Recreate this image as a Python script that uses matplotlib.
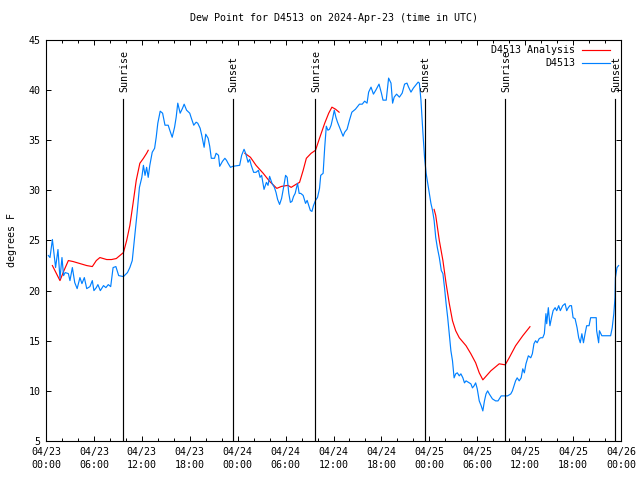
import numpy as np
import matplotlib
matplotlib.use("Agg")
import matplotlib.pyplot as plt

# hours since 2024-04-23 00:00 UTC
obs_hours = [0.3, 0.5, 0.8, 1.0, 1.2, 1.5, 1.75, 2.0, 2.2, 2.4, 2.8, 3.0, 3.3, 3.6, 3.9,
             4.25, 4.5, 4.8, 5.1, 5.5, 5.8, 6.0, 6.3, 6.5, 6.8, 7.2, 7.5, 7.8, 8.1, 8.4,
             8.75, 9.1, 9.7, 10.2, 10.5, 10.8, 11.1, 11.4, 11.7, 12.0, 12.2, 12.4, 12.6,
             12.8, 13.0, 13.3, 13.6, 13.8, 14.0, 14.3, 14.6, 14.9, 15.3, 15.5, 15.8, 16.1,
             16.3, 16.5, 16.8, 17.1, 17.3, 17.6, 18.0, 18.2, 18.5, 18.8, 19.0, 19.3, 19.5,
             19.8, 20.0, 20.3, 20.5, 20.7, 21.1, 21.3, 21.6, 21.75, 22.1, 22.4, 22.6, 22.8,
             23.1, 23.4, 24.2, 24.25, 24.5, 24.8, 25.0, 25.3, 25.5, 25.7, 26.0, 26.3, 26.6,
             26.8, 27.0, 27.3, 27.6, 27.8, 28.0, 28.3, 28.6, 28.8, 29.0, 29.25, 29.5, 29.75,
             30.0, 30.2, 30.4, 30.6, 30.8, 31.0, 31.2, 31.5, 31.7, 31.9, 32.2, 32.5, 32.7,
             32.9, 33.1, 33.3, 33.5, 33.75, 34.0, 34.25, 34.4, 34.7, 34.9, 35.1, 35.3, 35.5,
             35.7, 35.9, 36.1, 36.3, 36.5, 36.75, 37.2, 37.4, 37.7, 38.0, 38.3, 38.75, 39.25,
             39.6, 39.9, 40.2, 40.4, 40.7, 41.0, 41.3, 41.7, 42.0, 42.2, 42.6, 42.9, 43.2,
             43.4, 43.6, 43.9, 44.25, 44.6, 44.9, 45.2, 45.4, 45.7, 46.0, 46.3, 46.6, 46.75,
             46.95, 47.2, 47.4, 47.6, 47.8, 48.0, 48.2, 48.4, 48.6, 48.8, 49.0, 49.25, 49.5,
             49.7, 49.9, 50.1, 50.3, 50.5, 50.7, 50.9, 51.1, 51.3, 51.5, 51.75, 51.95, 52.2,
             52.4, 52.6, 53.0, 53.2, 53.4, 53.6, 53.8, 54.0, 54.25, 54.5, 54.7, 54.9, 55.1,
             55.3, 55.5, 55.9, 56.3, 56.6, 57.0, 57.4, 57.8, 58.2, 58.4, 58.8, 59.0, 59.25,
             59.5, 59.7, 59.9, 60.1, 60.4, 60.7, 60.9, 61.1, 61.3, 61.5, 61.75, 61.95, 62.2,
             62.4, 62.6, 62.7, 62.9, 63.1, 63.3, 63.5, 63.75, 63.95, 64.2, 64.4, 64.7, 65.0,
             65.2, 65.4, 65.6, 65.8, 66.0, 66.25, 66.5, 66.7, 66.9, 67.1, 67.3, 67.5, 67.7,
             68.0, 68.2, 68.6, 68.9, 68.95, 69.2, 69.3, 69.6, 69.9, 70.3, 70.7, 70.9, 71.1,
             71.25, 71.3, 71.5, 71.7]
obs_dewpt = [23.5, 23.3, 25.1, 23.7, 22.3, 24.1, 21.2, 23.3, 21.5, 21.8, 21.7, 21.0, 22.3, 20.8, 20.2,
             21.3, 20.7, 21.3, 20.2, 20.4, 21.0, 20.0, 20.3, 20.6, 20.0, 20.5, 20.3, 20.6, 20.4, 22.3,
             22.4, 21.5, 21.4, 21.8, 22.3, 23.0, 25.3, 27.7, 30.3, 31.3, 32.5, 31.5, 32.3,
             31.3, 32.5, 33.8, 34.2, 35.3, 36.7, 37.9, 37.7, 36.5, 36.5, 36.0, 35.3, 36.3,
             37.3, 38.7, 37.7, 38.2, 38.6, 38.0, 37.7, 37.2, 36.5, 36.8, 36.7, 36.2, 35.5,
             34.3, 35.6, 35.2, 34.4, 33.2, 33.2, 33.7, 33.5, 32.4, 32.9, 33.2, 33.0, 32.7,
             32.3, 32.4, 32.5, 32.5, 33.5, 34.1, 33.7, 32.8, 33.1, 32.5, 31.8, 31.8, 32.0,
             31.3, 31.5, 30.1, 30.8, 30.5, 31.4, 30.7, 30.3, 29.8, 29.1, 28.6, 29.2, 30.3,
             31.5, 31.3, 29.7, 28.8, 28.9, 29.4, 29.7, 30.7, 29.7, 29.7, 29.5, 28.7, 29.0,
             28.5, 28.0, 27.9, 28.5, 29.0, 29.3, 30.2, 31.5, 31.7, 34.3, 36.4, 36.0, 36.1,
             36.5, 37.2, 38.0, 37.3, 36.8, 36.3, 35.4, 35.8, 36.1, 37.0, 37.8, 38.1, 38.6,
             38.6, 38.9, 38.7, 39.8, 40.3, 39.6, 40.0, 40.6, 39.7, 39.0, 39.0, 41.2, 40.7,
             38.7, 39.3, 39.6, 39.3, 39.7, 40.6, 40.7, 40.3, 39.8, 40.2, 40.5, 40.8, 40.7,
             39.0, 35.7, 33.3, 31.7, 30.7, 29.7, 28.7, 28.0, 27.0, 25.3, 24.3, 23.3, 22.0,
             21.7, 20.3, 18.7, 17.3, 15.7, 14.0, 13.0, 11.3, 11.7, 11.8, 11.5, 11.7, 11.3,
             10.8, 11.0, 10.8, 10.7, 10.3, 10.5, 10.8, 10.2, 9.0, 8.5, 8.0, 9.0, 9.7,
             10.0, 9.7, 9.2, 9.0, 9.0, 9.5, 9.5, 9.5, 9.7, 10.0, 11.0, 11.3, 11.0,
             11.3, 12.2, 11.8, 12.7, 13.5, 13.3, 13.7, 14.7, 15.0, 14.8, 15.2, 15.3, 15.3,
             15.7, 17.7, 16.7, 18.3, 16.5, 17.3, 18.0, 18.3, 18.0, 18.5, 18.0, 18.5, 18.7,
             18.0, 18.3, 18.5, 18.5, 17.3, 17.2, 16.3, 15.3, 14.8, 15.7, 14.8, 15.7, 16.5,
             16.5, 17.3, 17.3, 17.3, 16.0, 14.8, 16.0, 15.5, 15.5, 15.5, 15.5, 16.3, 17.7,
             19.3, 21.3, 22.3, 22.5]

ana_hours = [0.8, 1.75, 2.25, 2.8, 3.4, 4.25, 5.1, 5.8, 6.3, 6.75, 7.6, 8.2, 8.8, 9.7,
             10.1, 10.5, 10.9, 11.3, 11.75, 12.2, 12.6, 12.8, 18.0,
             24.9, 25.6, 26.3, 27.2, 28.0, 28.9, 29.5, 30.3, 30.7, 31.3, 31.75, 32.2,
             32.6, 33.2, 33.75, 34.25, 34.9, 35.4, 35.8, 36.25, 36.7, 42.0,
             48.6, 48.8, 49.25, 49.7, 50.1, 50.5, 50.9, 51.3, 51.75, 52.6, 53.2, 53.8,
             54.25, 54.7, 55.7, 56.75, 57.5, 58.0, 58.8, 59.7, 60.6]
ana_dewpt = [22.5, 21.0, 22.0, 23.0, 22.9, 22.7, 22.5, 22.4, 23.0, 23.3, 23.1, 23.1, 23.2, 23.8,
             25.0, 26.5, 28.7, 31.0, 32.7, 33.2, 33.7, 34.0, np.nan,
             33.7, 33.3, 32.5, 31.7, 30.9, 30.2, 30.4, 30.5, 30.3, 30.6, 30.8, 32.0,
             33.2, 33.7, 34.0, 35.2, 36.7, 37.7, 38.3, 38.1, 37.8, np.nan,
             28.1, 27.5, 25.0, 23.0, 20.7, 18.7, 17.0, 16.0, 15.3, 14.5, 13.7, 12.8,
             11.8, 11.1, 12.0, 12.7, 12.6, 13.3, 14.5, 15.5, 16.4]

sun_hours = [9.66, 23.4, 33.7, 47.44, 57.5, 71.3]
sun_labels = ["Sunrise", "Sunset", "Sunrise", "Sunset", "Sunrise", "Sunset"]

tick_hours = list(range(0, 73, 6))
tick_labels = ["04/23\n00:00", "04/23\n06:00", "04/23\n12:00", "04/23\n18:00",
               "04/24\n00:00", "04/24\n06:00", "04/24\n12:00", "04/24\n18:00",
               "04/25\n00:00", "04/25\n06:00", "04/25\n12:00", "04/25\n18:00",
               "04/26\n00:00"]

plt.rcParams["font.family"] = "DejaVu Sans Mono"
plt.rcParams["font.size"] = 7.2

fig = plt.figure(figsize=(6.4, 4.8), dpi=100)
ax = fig.add_axes([46 / 640, 1 - 441 / 480, 575 / 640, 401 / 480])

ax.plot(ana_hours, ana_dewpt, color="#ff0000", lw=0.85)
ax.plot(obs_hours, obs_dewpt, color="#0080ff", lw=0.85)

for h, lab in zip(sun_hours, sun_labels):
    ax.plot([h, h], [5, 39.1], color="black", lw=0.85)
    ax.text(h + 0.1, 39.8, lab, rotation=90, ha="center", va="bottom")

ax.set_xlim(0, 72)
ax.set_ylim(5, 45)
ax.set_xticks(tick_hours)
ax.set_xticklabels(tick_labels, linespacing=1.45)
ax.set_xticks(range(0, 73, 2), minor=True)
ax.set_yticks(range(5, 46, 5))
ax.tick_params(which="both", direction="in", top=True, right=True, width=0.7)
ax.tick_params(which="major", length=3.3)
ax.tick_params(which="minor", length=1.9)
ax.tick_params(axis="x", pad=4)
ax.tick_params(axis="y", pad=4)
for s in ax.spines.values():
    s.set_linewidth(0.8)

ax.set_ylabel("degrees F", labelpad=8)
ax.set_title("Dew Point for D4513 on 2024-Apr-23 (time in UTC)", fontsize=7.2, pad=14)

# legend, gnuplot style (text right-aligned, sample on the right)
leg_rows = [("D4513 Analysis", "#ff0000", 0.975), ("D4513", "#0080ff", 0.9426)]
for name, col, yy in leg_rows:
    ax.text(0.92, yy, name, transform=ax.transAxes, ha="right", va="center")
    ax.plot([0.932, 0.981], [yy, yy], color=col, lw=0.85, transform=ax.transAxes)

fig.savefig("out.png", dpi=100)
